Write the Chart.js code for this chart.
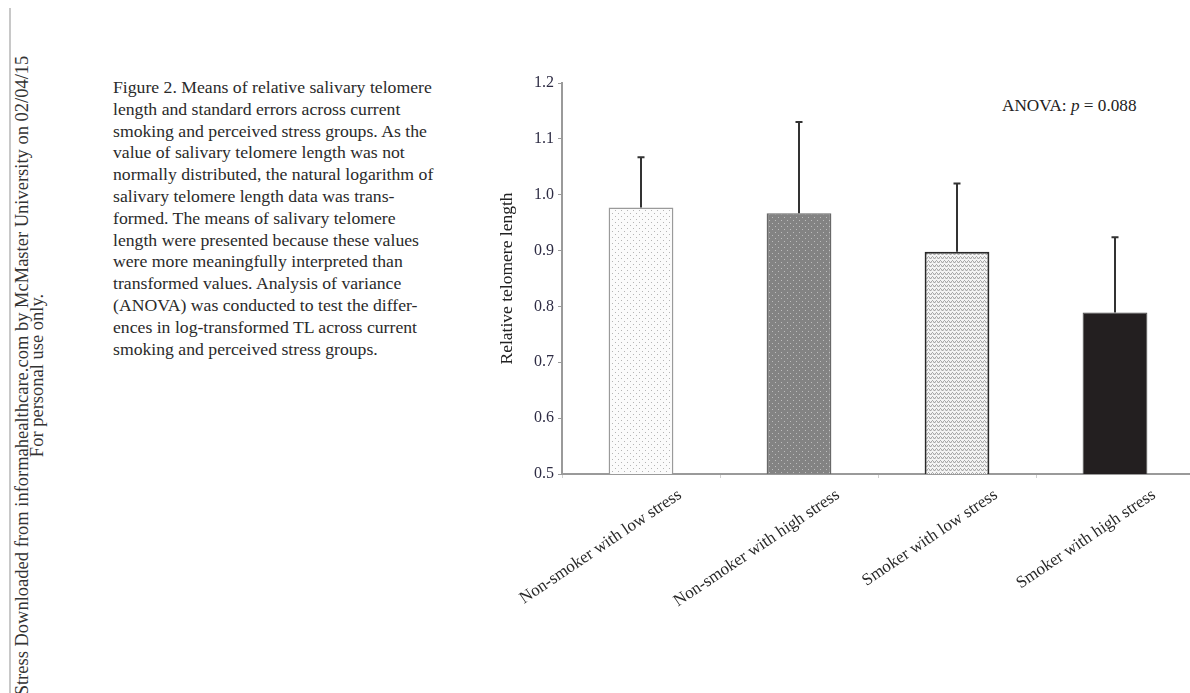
<!DOCTYPE html>
<html>
<head>
<meta charset="utf-8">
<script src="https://cdn.jsdelivr.net/npm/chart.js@4.4.1/dist/chart.umd.min.js"></script>
<style>
  html, body { margin:0; padding:0; width:1190px; height:693px; overflow:hidden; background:#fff; }
  body { position:relative; font-family:"Liberation Serif","DejaVu Serif",serif; color:#222; }
  #wrap { position:absolute; left:471px; top:0; width:740px; height:693px; }
  #caption { position:absolute; left:113px; top:77px; font-size:17.7px; line-height:21.8px; white-space:nowrap; color:#2a2a2a; }
  #side { position:absolute; left:0; top:0; width:693px; height:60px; transform-origin:0 0; transform:translate(15px,722px) rotate(-90deg);
          font-size:18.5px; line-height:15px; text-align:center; white-space:nowrap; color:#333; }
  #vline { position:absolute; left:9px; top:8px; width:2px; height:685px; background:#c8c8c8; }
  #anova { position:absolute; left:1002px; top:96px; font-size:17.2px; white-space:nowrap; color:#222; }
</style>
</head>
<body>
<div id="vline"></div>
<div id="side">Stress Downloaded from informahealthcare.com by McMaster University on 02/04/15<br>For personal use only.</div>
<div id="caption">Figure 2. Means of relative salivary telomere<br>length and standard errors across current<br>smoking and perceived stress groups. As the<br>value of salivary telomere length was not<br>normally distributed, the natural logarithm of<br>salivary telomere length data was trans-<br>formed. The means of salivary telomere<br>length were presented because these values<br>were more meaningfully interpreted than<br>transformed values. Analysis of variance<br>(ANOVA) was conducted to test the differ-<br>ences in log-transformed TL across current<br>smoking and perceived stress groups.</div>
<div id="anova">ANOVA: <i>p</i> = 0.088</div>
<div id="wrap"><canvas id="c"></canvas></div>
<script>
const categories = ["Non-smoker with low stress", "Non-smoker with high stress", "Smoker with low stress", "Smoker with high stress"];
const meanTL = [0.977, 0.967, 0.898, 0.789];
const stdErr = [0.090, 0.163, 0.122, 0.135];
const yTicks = [0.5, 0.6, 0.7, 0.8, 0.9, 1.0, 1.1, 1.2];

function makePattern(draw, w, h) {
  const c = document.createElement('canvas'); c.width = w; c.height = h;
  const g = c.getContext('2d'); draw(g);
  return g.createPattern(c, 'repeat');
}
const patLight = makePattern(g => {
  g.fillStyle = '#fbfbfb'; g.fillRect(0,0,6,6);
  g.fillStyle = '#b5b5b5'; g.fillRect(0,0,1,1); g.fillRect(3,3,1,1);
}, 6, 6);
const patDark = makePattern(g => {
  g.fillStyle = '#838383'; g.fillRect(0,0,6,6);
  g.fillStyle = '#bdbdbd'; g.fillRect(1,1,1,1); g.fillRect(4,4,1,1);
}, 6, 6);
const patWave = makePattern(g => {
  g.fillStyle = '#f4f4f4'; g.fillRect(0,0,4,4);
  g.fillStyle = '#a9a9a9'; g.fillRect(0,1,1,1); g.fillRect(1,0,1,1); g.fillRect(2,1,1,1); g.fillRect(3,2,1,1);
  g.fillStyle = '#cfcfcf'; g.fillRect(0,2,1,1); g.fillRect(2,2,1,1);
}, 4, 4);

const errorBars = {
  id: 'errorBars',
  afterDatasetsDraw(chart) {
    const ctx = chart.ctx, meta = chart.getDatasetMeta(0), ys = chart.scales.y;
    ctx.save();
    ctx.strokeStyle = '#333'; ctx.lineWidth = 2;
    meta.data.forEach((bar, i) => {
      const top = ys.getPixelForValue(meanTL[i] + stdErr[i]);
      ctx.beginPath();
      ctx.moveTo(bar.x, bar.y); ctx.lineTo(bar.x, top);
      ctx.moveTo(bar.x - 3.5, top); ctx.lineTo(bar.x + 3.5, top);
      ctx.stroke();
    });
    ctx.restore();
  }
};

new Chart(document.getElementById('c'), {
  type: 'bar',
  data: {
    labels: categories,
    datasets: [{
      data: meanTL,
      backgroundColor: [patLight, patDark, patWave, '#231f20'],
      borderColor: ['#9a9a9a', '#686868', '#2a2a2a', '#4a4a4a'],
      borderWidth: [1.5, 1.5, 2, 1],
      borderSkipped: 'start',
      categoryPercentage: 1,
      barPercentage: 0.41
    }]
  },
  options: {
    responsive: true,
    maintainAspectRatio: false,
    animation: false,
    layout: { padding: { top: 83, right: 17, bottom: 0, left: 0 } },
    plugins: { legend: { display: false }, tooltip: { enabled: false } },
    scales: {
      x: {
        offset: true,
        grid: { offset: true, drawOnChartArea: false, drawTicks: true, tickLength: 4, color: '#cfcfcf' },
        border: { display: true, color: '#9a9a9a', width: 2 },
        ticks: {
          autoSkip: false, minRotation: 34, maxRotation: 34, labelOffset: 39, padding: 7,
          color: '#2a2a2a', font: { family: 'Liberation Serif', size: 17 }
        },
        afterFit(s) { s.height = 219; s.paddingLeft = 0; s.paddingRight = 0; }
      },
      y: {
        min: 0.5, max: 1.2,
        afterBuildTicks(s) { s.ticks = yTicks.map(v => ({ value: v })); },
        grid: { drawOnChartArea: false, drawTicks: true, tickLength: 4, color: '#9a9a9a' },
        border: { display: true, color: '#9a9a9a', width: 2 },
        ticks: {
          padding: 4, color: '#2e2c44',
          font: { family: 'Liberation Serif', size: 16 },
          callback: v => v.toFixed(1)
        },
        title: {
          display: true, text: 'Relative telomere length', color: '#222',
          font: { family: 'Liberation Serif', size: 17.5 }, padding: { top: 26, bottom: 0 }
        },
        afterFit(s) { s.width = 91; s.paddingTop = 0; s.paddingBottom = 0; }
      }
    }
  },
  plugins: [errorBars]
});
</script>
</body>
</html>
